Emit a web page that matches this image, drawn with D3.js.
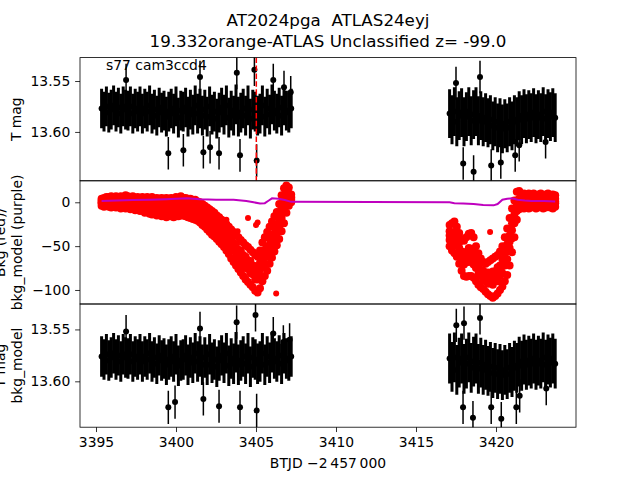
<!DOCTYPE html>
<html>
<head>
<meta charset="UTF-8">
<title>AT2024pga light curve</title>
<script src="https://d3js.org/d3.v7.min.js"></script>
<style>
  body { margin: 0; background: #fff; }
  text { font-family: "DejaVu Sans", sans-serif; }
</style>
</head>
<body>
<script>
// cadences (BTJD), shared by the three panels
var btjd = [
  3395.35, 3395.50, 3395.65, 3395.80, 3395.95, 3396.10, 3396.25, 3396.40, 3396.55, 3396.70,
  3396.85, 3397.00, 3397.15, 3397.30, 3397.45, 3397.60, 3397.75, 3397.90, 3398.05, 3398.20,
  3398.35, 3398.50, 3398.65, 3398.80, 3398.95, 3399.10, 3399.25, 3399.40, 3399.55, 3399.70,
  3399.85, 3400.00, 3400.15, 3400.30, 3400.45, 3400.60, 3400.75, 3400.90, 3401.05, 3401.20,
  3401.35, 3401.50, 3401.65, 3401.80, 3401.95, 3402.10, 3402.25, 3402.40, 3402.55, 3402.70,
  3402.85, 3403.00, 3403.15, 3403.30, 3403.45, 3403.60, 3403.75, 3403.90, 3404.05, 3404.20,
  3404.35, 3404.50, 3404.65, 3404.80, 3404.95, 3405.10, 3405.25, 3405.40, 3405.55, 3405.70,
  3405.85, 3406.00, 3406.15, 3406.30, 3406.45, 3406.60, 3406.75, 3406.90, 3407.05, 3407.20,
  3417.10, 3417.25, 3417.40, 3417.55, 3417.70, 3417.85, 3418.00, 3418.15, 3418.30, 3418.45,
  3418.60, 3418.75, 3418.90, 3419.05, 3419.20, 3419.35, 3419.50, 3419.65, 3419.80, 3419.95,
  3420.10, 3420.25, 3420.40, 3420.55, 3420.70, 3420.85, 3421.00, 3421.15, 3421.30, 3421.45,
  3421.60, 3421.75, 3421.90, 3422.05, 3422.20, 3422.35, 3422.50, 3422.65, 3422.80, 3422.95,
  3423.10, 3423.25, 3423.40, 3423.55, 3423.70
]

// T mag (top panel)
var tMag = [
  13.577, 13.580, 13.575, 13.581, 13.578, 13.574, 13.580, 13.576, 13.582, 13.575,
  13.578, 13.579, 13.575, 13.582, 13.577, 13.580, 13.575, 13.582, 13.577, 13.580,
  13.574, 13.582, 13.578, 13.584, 13.576, 13.581, 13.579, 13.585, 13.580, 13.577,
  13.582, 13.575, 13.586, 13.579, 13.580, 13.576, 13.585, 13.578, 13.583, 13.574,
  13.582, 13.577, 13.584, 13.578, 13.585, 13.575, 13.583, 13.580, 13.587, 13.581,
  13.576, 13.583, 13.574, 13.586, 13.579, 13.584, 13.573, 13.585, 13.581, 13.577,
  13.584, 13.574, 13.587, 13.578, 13.580, 13.584, 13.582, 13.574, 13.585, 13.577,
  13.583, 13.573, 13.579, 13.582, 13.576, 13.584, 13.574, 13.579, 13.581, 13.577,
  13.582, 13.588, 13.580, 13.590, 13.584, 13.581, 13.590, 13.585, 13.580, 13.589,
  13.583, 13.580, 13.589, 13.584, 13.590, 13.586, 13.591, 13.588, 13.594, 13.590,
  13.596, 13.591, 13.597, 13.592, 13.596, 13.590, 13.594, 13.588, 13.590, 13.584,
  13.588, 13.582, 13.587, 13.583, 13.586, 13.581, 13.587, 13.583, 13.586, 13.580,
  13.587, 13.582, 13.585, 13.581, 13.586
]

// T mag - bkg_model (bottom panel)
var tMagCorr = [
  13.576, 13.579, 13.574, 13.580, 13.577, 13.573, 13.579, 13.575, 13.581, 13.574,
  13.577, 13.578, 13.574, 13.581, 13.576, 13.579, 13.574, 13.581, 13.576, 13.579,
  13.573, 13.581, 13.577, 13.583, 13.575, 13.580, 13.578, 13.584, 13.579, 13.576,
  13.581, 13.574, 13.585, 13.580, 13.579, 13.575, 13.584, 13.577, 13.582, 13.573,
  13.581, 13.576, 13.584, 13.577, 13.584, 13.574, 13.582, 13.579, 13.586, 13.580,
  13.575, 13.582, 13.573, 13.585, 13.578, 13.583, 13.572, 13.584, 13.580, 13.576,
  13.583, 13.573, 13.586, 13.577, 13.579, 13.583, 13.581, 13.573, 13.584, 13.576,
  13.582, 13.572, 13.578, 13.581, 13.575, 13.583, 13.573, 13.578, 13.580, 13.576,
  13.578, 13.586, 13.577, 13.589, 13.582, 13.578, 13.588, 13.583, 13.577, 13.587,
  13.581, 13.578, 13.588, 13.582, 13.589, 13.584, 13.590, 13.586, 13.592, 13.587,
  13.593, 13.588, 13.594, 13.589, 13.593, 13.587, 13.591, 13.585, 13.587, 13.581,
  13.585, 13.579, 13.584, 13.580, 13.583, 13.578, 13.584, 13.580, 13.583, 13.577,
  13.584, 13.579, 13.582, 13.578, 13.583
]

// magnitude errors (same cadences)
var magErr = [
  0.0195, 0.0195, 0.0195, 0.0195, 0.0195, 0.0195, 0.0195, 0.0195, 0.0195, 0.0195,
  0.0195, 0.0195, 0.0195, 0.0195, 0.0195, 0.0195, 0.0195, 0.0195, 0.0195, 0.0195,
  0.0195, 0.0195, 0.0195, 0.0195, 0.0195, 0.0195, 0.0195, 0.0195, 0.0195, 0.0195,
  0.0195, 0.0195, 0.0195, 0.0195, 0.0195, 0.0195, 0.0195, 0.0195, 0.0195, 0.0195,
  0.0195, 0.0195, 0.0195, 0.0195, 0.0195, 0.0195, 0.0195, 0.0195, 0.0195, 0.0195,
  0.0195, 0.0195, 0.0195, 0.0195, 0.0195, 0.0195, 0.0195, 0.0195, 0.0195, 0.0195,
  0.0195, 0.0195, 0.0195, 0.0195, 0.0195, 0.0195, 0.0195, 0.0195, 0.0195, 0.0195,
  0.0195, 0.0195, 0.0195, 0.0195, 0.0195, 0.0195, 0.0195, 0.0195, 0.0195, 0.0195,
  0.024, 0.024, 0.024, 0.024, 0.024, 0.024, 0.024, 0.024, 0.024, 0.024,
  0.024, 0.024, 0.024, 0.024, 0.024, 0.024, 0.024, 0.024, 0.024, 0.024,
  0.024, 0.024, 0.024, 0.024, 0.024, 0.024, 0.024, 0.024, 0.024, 0.024,
  0.024, 0.024, 0.024, 0.024, 0.024, 0.024, 0.024, 0.024, 0.024, 0.024,
  0.024, 0.024, 0.024, 0.024, 0.024
]

// isolated points outside the main band
var outT1 = [3396.88, 3399.52, 3400.46, 3401.50, 3401.71, 3402.13, 3402.69, 3403.80, 3404.00, 3404.90,
  3405.04, 3406.08, 3406.75, 3407.17, 3417.50, 3417.95, 3418.60, 3419.00, 3419.70, 3420.30,
  3421.20, 3421.45, 3423.10]
var outMag1 = [13.549, 13.621, 13.618, 13.546, 13.620, 13.615, 13.621, 13.542, 13.623, 13.539,
  13.628, 13.549, 13.556, 13.561, 13.552, 13.631, 13.639, 13.546, 13.633, 13.630,
  13.623, 13.613, 13.610]
var outT3 = [3396.88, 3399.52, 3399.94, 3401.50, 3401.71, 3402.69, 3403.79, 3404.00, 3404.97, 3405.04,
  3406.08, 3406.71, 3407.10, 3417.52, 3417.94, 3418.00, 3418.56, 3419.00, 3419.70, 3420.33,
  3421.27, 3421.48, 3423.14]
var outMag3 = [13.552, 13.625, 13.620, 13.549, 13.617, 13.624, 13.543, 13.625, 13.536, 13.628,
  13.554, 13.562, 13.560, 13.546, 13.625, 13.544, 13.635, 13.539, 13.625, 13.636,
  13.625, 13.614, 13.607]
var outErr = 0.016

// background flux, several samples per cadence (upper edge -> lower edge of the scatter)
var bkgTop = [
  4, 5, 6, 6, 7, 6, 7, 6, 7, 6, 8, 7, 6, 7, 5, 6, 5, 6, 5, 6,
  5, 6, 4, 5, 4, 5, 4, 5, 4, 5, 4, 6, 5, 7, 5, 5, 4, 4, 3, 3,
  1, 0, -2, -4, -6, -8, -10, -12, -15, -17, -20, -22, -25, -28, -31, -34, -37, -40, -43, -46,
  -49, -51, -54, -57, -60, -62, -55, -46, -40, -34, -28, -22, -16, -11, -2, 8, 16, 19, 17, 9,
  -26, -24, -22, -28, -35, -42, -44, -40, -36, -35, -40, -50, -58, -64, -68, -70, -68, -66, -64, -62,
  -60, -56, -50, -40, -30, -18, -7, 2, 12, 13, 9, 10, 8, 10, 9, 10, 8, 9, 10, 8,
  9, 10, 8, 9, 8
]
var bkgUpper = [
  2, 2, 3, 3, 2, 3, 2, 3, 2, 1, 3, 2, 1, 2, 0, 1, 0, 1, -1, 0,
  -1, -1, -2, -2, -1, -3, -2, -3, -2, -2, -3, -2, -1, -1, -2, -2, -3, -4, -4, -5,
  -6, -8, -9, -13, -14, -18, -18, -23, -23, -28, -29, -33, -34, -40, -42, -47, -48, -54, -55, -60,
  -62, -66, -67, -72, -73, -77, -69, -62, -54, -50, -42, -37, -29, -25, -15, -7, 3, 8, 10, 6,
  -33, -36, -34, -41, -46, -56, -57, -57, -52, -53, -55, -65, -70, -77, -78, -82, -80, -81, -79, -79,
  -74, -72, -65, -59, -48, -38, -24, -14, 2, 4, 4, 5, 3, 4, 5, 3, 4, 4, 5, 3,
  4, 5, 3, 4, 4
]
var bkgMid = [
  0, 1, 1, 1, 0, 1, 0, 1, 0, 0, 1, 0, -1, 0, -2, -1, -2, -1, -3, -2,
  -4, -4, -4, -5, -5, -5, -5, -6, -6, -5, -6, -5, -5, -4, -5, -5, -6, -7, -8, -8,
  -10, -11, -14, -16, -19, -21, -24, -26, -28, -31, -34, -37, -40, -44, -47, -51, -55, -58, -62, -65,
  -68, -71, -74, -77, -81, -83, -77, -68, -62, -56, -49, -43, -36, -30, -22, -12, -4, 4, 7, 5,
  -38, -40, -40, -45, -52, -60, -64, -62, -60, -60, -63, -70, -76, -80, -84, -86, -86, -87, -86, -85,
  -82, -78, -73, -65, -56, -45, -32, -19, -4, 3, 1, 2, 1, 2, 1, 2, 1, 2, 1, 2,
  1, 2, 1, 2, 1
]
var bkgLower = [
  -1, -1, 0, -1, -2, -1, -2, -1, -2, -3, -2, -3, -3, -2, -4, -3, -5, -4, -6, -5,
  -6, -7, -8, -8, -7, -9, -8, -10, -9, -9, -10, -9, -8, -8, -7, -9, -10, -10, -11, -12,
  -13, -15, -19, -19, -23, -24, -29, -29, -34, -34, -39, -40, -46, -47, -53, -55, -61, -62, -68, -70,
  -75, -76, -81, -82, -88, -88, -84, -74, -70, -62, -56, -48, -43, -35, -29, -18, -11, -1, 4, 3,
  -43, -43, -46, -49, -59, -64, -71, -68, -68, -66, -71, -75, -82, -84, -89, -90, -93, -92, -94, -90,
  -90, -84, -81, -72, -65, -52, -41, -24, -10, 0, -1, -2, 0, -1, -2, 0, -1, -2, -1, 0,
  -2, -1, 0, -2, -1
]
var bkgBottom = [
  -4, -5, -4, -5, -6, -5, -6, -5, -7, -6, -7, -6, -8, -7, -9, -8, -10, -9, -12, -11,
  -13, -14, -13, -15, -14, -16, -15, -17, -16, -16, -17, -16, -16, -15, -15, -16, -17, -18, -19, -20,
  -21, -23, -26, -28, -31, -34, -37, -39, -42, -45, -48, -51, -55, -59, -64, -68, -72, -76, -80, -84,
  -88, -91, -94, -97, -101, -103, -98, -90, -84, -78, -70, -63, -56, -49, -42, -33, -24, -12, -4, 0,
  -50, -55, -58, -62, -70, -78, -84, -85, -84, -84, -86, -90, -94, -97, -99, -102, -105, -107, -109, -107,
  -104, -100, -96, -90, -83, -72, -57, -40, -20, -8, -6, -7, -5, -7, -6, -5, -7, -6, -5, -7,
  -6, -5, -6, -7, -5
]
// isolated background points
var bkgOutT = [3403.15, 3403.85, 3404.50, 3405.00, 3405.10, 3406.26, 3419.63]
var bkgOutV = [-20, -33, -18, -26, -23, -104, -34]

// background model (purple line)
var modelT = [3395.35, 3396.3, 3397.3, 3398.4, 3399.4, 3400.0, 3400.7, 3401.5, 3402.5, 3403.6,
  3404.4, 3404.85, 3405.25, 3405.55, 3405.8, 3406.0, 3406.4, 3406.8, 3407.2,
  3417.1, 3417.4, 3417.95, 3418.6, 3419.2, 3419.85, 3420.1, 3420.4, 3420.7, 3421.0, 3421.35,
  3421.8, 3422.2, 3423.0, 3423.7]
var modelV = [1.5, 2, 2.5, 3, 3.5, 4, 4.5, 3.5, 3, 3,
  1.5, 0, -1.5, -1, 2, 4.5, 4, 2.5, 0.5,
  0, -1, -1.5, -2, -3, -3.5, -2, 3, 4, 4.5, 3,
  2, 1.5, 1.5, 1]

var markTime = 3405.02
var xTicks = [3395, 3400, 3405, 3410, 3415, 3420]
var yTicks1 = [13.55, 13.60]
var yTicks2 = [0, -50, -100]
var yTicks3 = [13.55, 13.60]

var width = 640
var height = 480
var left = 80, right = 576
var panelTop = [57.6, 180.8, 304.0]
var panelH = 123.2
var tick = 4.86 // 3.5pt

var svg = d3.select("body").append("svg")
  .attr("width", width)
  .attr("height", height)

var x = d3.scaleLinear().domain([3394.0, 3425.0]).range([left, right])
var y1 = d3.scaleLinear().domain([13.527, 13.648]).range([panelTop[0], panelTop[0] + panelH])
var y2 = d3.scaleLinear().domain([24.5, -116]).range([panelTop[1], panelTop[1] + panelH])
var y3 = d3.scaleLinear().domain([13.5255, 13.6442]).range([panelTop[2], panelTop[2] + panelH])

var minus = function(d) { return d < 0 ? "\u2212" + Math.abs(d) : String(d) }

function panel(i) {
  var id = "clip" + i
  svg.append("clipPath").attr("id", id)
    .append("rect")
    .attr("x", left).attr("y", panelTop[i])
    .attr("width", right - left).attr("height", panelH)
  return svg.append("g").attr("clip-path", "url(#" + id + ")")
}

// vertical error bars with a dot at the value
function errorbars(g, ys, times, vals, errFn, width) {
  var gg = g.append("g")
  gg.selectAll("line").data(times).enter().append("line")
    .attr("x1", function(d) { return x(d) })
    .attr("x2", function(d) { return x(d) })
    .attr("y1", function(d, i) { return ys(vals[i] - errFn(i)) })
    .attr("y2", function(d, i) { return ys(vals[i] + errFn(i)) })
    .attr("stroke", "black")
    .attr("stroke-width", width)
  gg.selectAll("circle").data(times).enter().append("circle")
    .attr("cx", function(d) { return x(d) })
    .attr("cy", function(d, i) { return ys(vals[i]) })
    .attr("r", 3)
    .attr("fill", "black")
}

function frame(i, ys, ticks, fmt) {
  svg.append("g")
    .attr("transform", "translate(" + left + ",0)")
    .call(d3.axisLeft(ys).tickValues(ticks).tickSize(tick).tickPadding(tick).tickFormat(fmt))
    .call(function(a) { a.select(".domain").remove() })
  svg.append("rect")
    .attr("x", left).attr("y", panelTop[i])
    .attr("width", right - left).attr("height", panelH)
    .attr("fill", "none").attr("stroke", "black").attr("stroke-width", 0.8)
}

var bandErr = function(i) { return magErr[i] }
var singleErr = function() { return outErr }

// -- panel 1: T mag --
var g1 = panel(0)
errorbars(g1, y1, btjd, tMag, bandErr, 3)
errorbars(g1, y1, outT1, outMag1, singleErr, 1.5)
g1.append("line")
  .attr("x1", x(markTime)).attr("x2", x(markTime))
  .attr("y1", panelTop[0]).attr("y2", panelTop[0] + panelH)
  .attr("stroke", "red").attr("stroke-width", 1.5)
  .attr("stroke-dasharray", "5.5,2.4")
frame(0, y1, yTicks1, d3.format(".2f"))

// -- panel 2: background --
var g2 = panel(1)
var bkgSets = [bkgTop, bkgUpper, bkgMid, bkgLower, bkgBottom]
bkgSets.forEach(function(vals) {
  g2.append("g").selectAll("circle").data(btjd).enter().append("circle")
    .attr("cx", function(d) { return x(d) })
    .attr("cy", function(d, i) { return y2(vals[i]) })
    .attr("r", 4)
    .attr("fill", "red")
})
g2.append("g").selectAll("circle").data(bkgOutT).enter().append("circle")
  .attr("cx", function(d) { return x(d) })
  .attr("cy", function(d, i) { return y2(bkgOutV[i]) })
  .attr("r", 3)
  .attr("fill", "red")
g2.append("path")
  .datum(modelT)
  .attr("d", d3.line().x(function(d) { return x(d) }).y(function(d, i) { return y2(modelV[i]) }))
  .attr("fill", "none")
  .attr("stroke", "#bf00bf")
  .attr("stroke-width", 2)
frame(1, y2, yTicks2, minus)

// -- panel 3: T mag - bkg_model --
var g3 = panel(2)
errorbars(g3, y3, btjd, tMagCorr, bandErr, 3)
errorbars(g3, y3, outT3, outMag3, singleErr, 1.5)
frame(2, y3, yTicks3, d3.format(".2f"))

// x axis on the bottom panel
svg.append("g")
  .attr("transform", "translate(0," + (panelTop[2] + panelH) + ")")
  .call(d3.axisBottom(x).tickValues(xTicks).tickSize(tick).tickPadding(tick).tickFormat(d3.format("d")))
  .call(function(a) { a.select(".domain").remove() })

svg.selectAll(".tick text").attr("font-size", "13.9px").attr("fill", "black")
  .style("font-family", "DejaVu Sans")
svg.selectAll(".tick line").attr("stroke", "black").attr("stroke-width", 0.8)

// -- texts --
svg.append("text").attr("x", 328).attr("y", 25.5)
  .attr("text-anchor", "middle").attr("font-size", "16.7px")
  .text("AT2024pga  ATLAS24eyj").style("white-space", "pre")
svg.append("text").attr("x", 328).attr("y", 47)
  .attr("text-anchor", "middle").attr("font-size", "16.7px")
  .text("19.332orange-ATLAS Unclassified z= -99.0")
svg.append("text").attr("x", 106).attr("y", 70)
  .attr("font-size", "13.9px")
  .text("s77 cam3ccd4")
svg.append("text").attr("x", 328).attr("y", 468)
  .attr("text-anchor", "middle").attr("font-size", "13.9px")
  .text("BTJD \u22122\u2009457\u2009000")

function ylabel(lines, cy, baseX) {
  lines.forEach(function(s, k) {
    var bx = baseX - (lines.length - 1 - k) * 16.7
    svg.append("text")
      .attr("transform", "translate(" + bx + "," + cy + ") rotate(-90)")
      .attr("text-anchor", "middle").attr("font-size", "13.9px")
      .text(s)
  })
}
ylabel(["T mag"], panelTop[0] + panelH / 2, 21)
ylabel(["Bkg (red)/", "bkg_model (purple)"], panelTop[1] + panelH / 2, 22)
ylabel(["T mag", "bkg_model"], panelTop[2] + panelH / 2, 22)
</script>
</body>
</html>
